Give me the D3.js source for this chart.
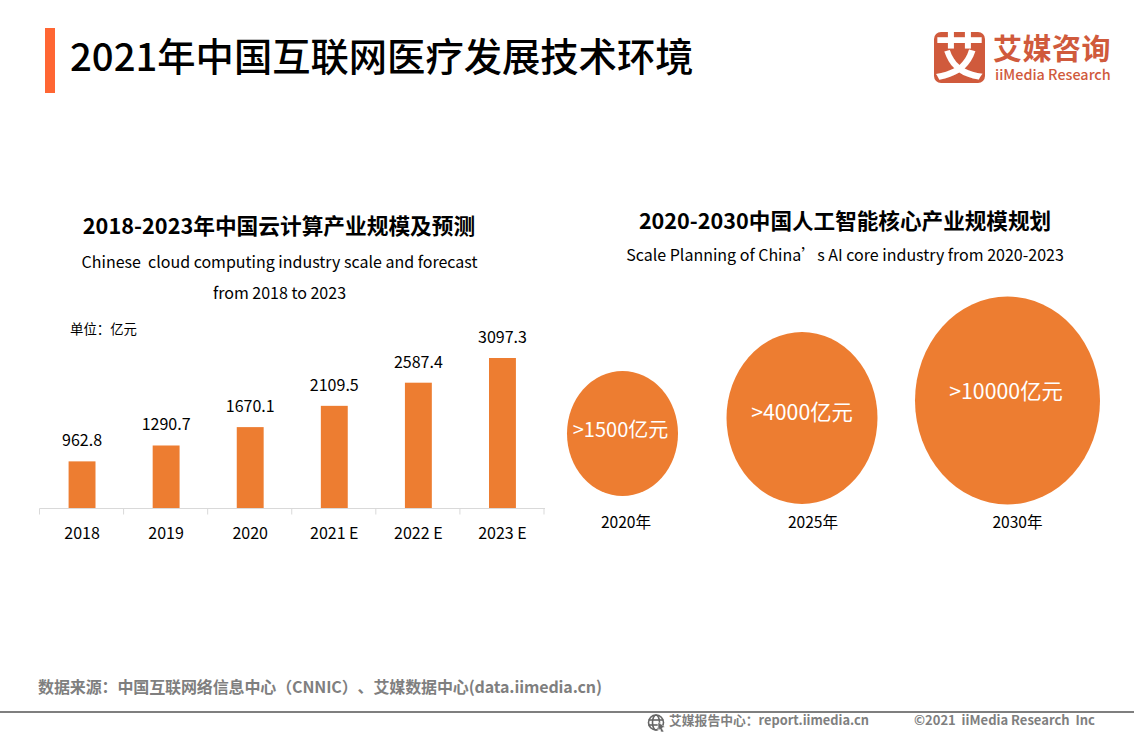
<!DOCTYPE html>
<html><head><meta charset="utf-8">
<style>
html,body{margin:0;padding:0;background:#fff;overflow:hidden}
svg{display:block}
text{font-family:"Noto Sans CJK SC","Noto Sans",sans-serif;text-spacing-trim:space-all}
</style>
<script src="https://cdn.jsdelivr.net/npm/d3@7"></script>
</head><body><svg id="c" width="1134" height="737"></svg>
<script>
const barCategories=["2018","2019","2020","2021 E","2022 E","2023 E"];
const barValues=[962.8,1290.7,1670.1,2109.5,2587.4,3097.3];
const bubbleCategories=["2020年","2025年","2030年"];
const bubbleValues=[1500,4000,10000];
const bubbleLabels=[">1500亿元",">4000亿元",">10000亿元"];
const orange="#ED7D31";
const svg=d3.select("#c");
function T(x,y,s,size,fill,anchor,weight){
  return svg.append("text").attr("x",x).attr("y",y).text(s).attr("font-size",size)
   .attr("fill",fill||"#000").attr("text-anchor",anchor||"start").attr("font-weight",weight||400);
}
// header
svg.append("rect").attr("x",45).attr("y",28).attr("width",10).attr("height",65).attr("fill","#FF6633");
T(70,71,"2021年中国互联网医疗发展技术环境",38.3,"#000","start",500);
// logo
svg.append("rect").attr("x",934).attr("y",32).attr("width",51).attr("height",51).attr("rx",7).attr("fill","#D05A3C");
T(959.5,75,"艾",50,"#fff","middle",700);
T(993,60,"艾媒咨询",29,"#D05A3C","start",700).attr("letter-spacing",0.5);
T(995,80,"iiMedia Research",14.4,"#D05A3C","start",500);
// left titles
T(279,234,"2018-2023年中国云计算产业规模及预测",21.7,"#000","middle",700);
T(279.5,268,"Chinese  cloud computing industry scale and forecast",16,"#000","middle").style("white-space","pre");
T(279.5,299,"from 2018 to 2023",16,"#000","middle");
T(70,334,"单位：亿元",13.4,"#000");
// bars
const x=d3.scaleBand().domain(barCategories).range([40,544.5]).paddingInner(0.68).paddingOuter(0.34);
const y=d3.scaleLinear().domain([0,3097.3]).range([508,358]);
const band=d3.scaleBand().domain(barCategories).range([40,544.5]);
svg.selectAll(".bar").data(barValues).join("rect").attr("class","bar")
 .attr("x",(d,i)=>x(barCategories[i])).attr("y",d=>y(d))
 .attr("width",x.bandwidth()).attr("height",d=>y(0)-y(d)).attr("fill",orange);
svg.selectAll(".val").data(barValues).join("text").attr("class","val")
 .attr("x",(d,i)=>band(barCategories[i])+band.bandwidth()/2).attr("y",d=>y(d)-15)
 .attr("text-anchor","middle").attr("font-size",16).attr("fill","#000").text(d=>d.toFixed(1));
const ag=svg.append("g").attr("transform","translate(0,508.5)");
ag.append("line").attr("x1",39.5).attr("x2",545).attr("stroke","#D9D9D9").attr("stroke-width",1.2);
const ticks=barCategories.map(c=>band(c)).concat([band.range()[1]]);
ag.selectAll(".t").data(ticks).join("line").attr("class","t").attr("x1",d=>d-0.5).attr("x2",d=>d-0.5).attr("y1",0).attr("y2",6).attr("stroke","#D9D9D9");
svg.selectAll(".cat").data(barCategories).join("text").attr("class","cat")
 .attr("x",d=>band(d)+band.bandwidth()/2).attr("y",539).attr("text-anchor","middle")
 .attr("font-size",16).attr("fill","#000").text(d=>d);
// right titles
T(845,229,"2020-2030中国人工智能核心产业规模规划",21.6,"#000","middle",700);
T(845,261,"Scale Planning of China’s AI core industry from 2020-2023",16,"#000","middle");
// bubbles
const cx=d3.scaleOrdinal(bubbleCategories,[622.5,802,1007.5]);
const cy=d3.scaleOrdinal(bubbleCategories,[433.5,418,400.5]);
const rx=d3.scaleLinear().domain(bubbleValues).range([55.5,75.5,92.5]);
const ry=d3.scaleLinear().domain(bubbleValues).range([62.5,86,104]);
svg.selectAll(".bub").data(bubbleValues).join("ellipse").attr("class","bub")
 .attr("cx",(d,i)=>cx(bubbleCategories[i])).attr("cy",(d,i)=>cy(bubbleCategories[i]))
 .attr("rx",d=>rx(d)).attr("ry",d=>ry(d)).attr("fill",orange);
const labelX=d3.scaleOrdinal(bubbleCategories,[620.5,802,1006]);
const labelY=d3.scaleOrdinal(bubbleCategories,[437,420,399]);
const labelSize=d3.scaleOrdinal(bubbleCategories,[20,21.3,21.3]);
svg.selectAll(".bl").data(bubbleLabels).join("text").attr("class","bl")
 .attr("x",(d,i)=>labelX(bubbleCategories[i])).attr("y",(d,i)=>labelY(bubbleCategories[i]))
 .attr("text-anchor","middle").attr("font-size",(d,i)=>labelSize(bubbleCategories[i])).attr("fill","#fff").text(d=>d);
const catX=d3.scaleOrdinal(bubbleCategories,[626,813,1017.5]);
svg.selectAll(".bc").data(bubbleCategories).join("text").attr("class","bc")
 .attr("x",d=>catX(d)).attr("y",528).attr("text-anchor","middle").attr("font-size",15.6).attr("fill","#000").text(d=>d);
// footer
T(38,693,"数据来源：中国互联网络信息中心（CNNIC）、艾媒数据中心(data.iimedia.cn)",16,"#7F7F7F","start",700)
 .attr("textLength",564).attr("lengthAdjust","spacing");
svg.append("rect").attr("x",0).attr("y",711).attr("width",1134).attr("height",2).attr("fill","#7F7F7F");
const g=svg.append("g").attr("transform","translate(656,722.5)").attr("fill","none").attr("stroke","#666").attr("stroke-width",1.6);
g.append("circle").attr("r",7.5);
g.append("ellipse").attr("rx",3.5).attr("ry",7.5);
g.append("line").attr("x1",-7.5).attr("x2",7.5).attr("y1",-2.5).attr("y2",-2.5);
g.append("line").attr("x1",-7.5).attr("x2",7.5).attr("y1",2.5).attr("y2",2.5);
svg.append("path").attr("d","M658 722 L665 727 L662 728 L664 732 L661 732 L660 729 L658 730 Z").attr("fill","#666").attr("stroke","#fff").attr("stroke-width",0.6);
T(669,725,"艾媒报告中心：report.iimedia.cn",12.8,"#7F7F7F","start",700);
T(914,725,"©2021  iiMedia Research  Inc",13,"#7F7F7F","start",700).style("white-space","pre");
</script></body></html>
